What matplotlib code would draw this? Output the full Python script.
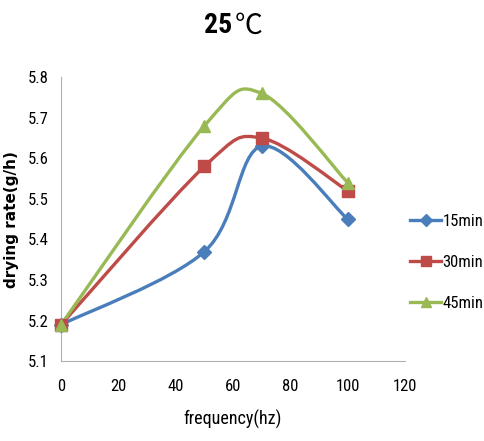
import numpy as np
import matplotlib.pyplot as plt
from matplotlib.path import Path
from matplotlib.patches import PathPatch

freq = [0, 50, 70, 100]
rate_15 = [5.19, 5.37, 5.63, 5.45]
rate_30 = [5.19, 5.58, 5.65, 5.52]
rate_45 = [5.19, 5.68, 5.76, 5.54]
labels = ["15min", "30min", "45min"]
x_ticks = [0, 20, 40, 60, 80, 100, 120]
y_ticks = [5.1, 5.2, 5.3, 5.4, 5.5, 5.6, 5.7, 5.8]

colors = ["#4a7ebb", "#be4b48", "#98b954"]
markers = ["D", "s", "^"]
msizes = [7, 9, 9]

narrow = ["Roboto Condensed", "Liberation Sans Narrow", "DejaVu Sans"]


def smooth_path(xs, ys, k=1 / 6.0):
    # Excel-style smoothed line: cubic bezier with catmull-rom control points
    pts = np.column_stack([xs, ys]).astype(float)
    n = len(pts)
    verts = [pts[0]]
    codes = [Path.MOVETO]
    for i in range(n - 1):
        p0 = pts[i - 1] if i > 0 else pts[i]
        p1 = pts[i]
        p2 = pts[i + 1]
        p3 = pts[i + 2] if i + 2 < n else pts[i + 1]
        c1 = p1 + (p2 - p0) * k
        c2 = p2 - (p3 - p1) * k
        verts += [c1, c2, p2]
        codes += [Path.CURVE4] * 3
    return Path(verts, codes)


fig = plt.figure(figsize=(4.85, 4.41), dpi=100)
ax = fig.add_axes([0.126, 0.181, 0.709, 0.644])

for ys, lab, c, m, ms in zip([rate_15, rate_30, rate_45], labels, colors, markers, msizes):
    ax.add_patch(PathPatch(smooth_path(freq, ys), fill=False, edgecolor=c, lw=2.4, zorder=2))
    ax.plot(freq, ys, ls="none", marker=m, ms=ms, color=c, zorder=3, clip_on=False)
    ax.plot([], [], color=c, lw=2.4, marker=m, ms=ms * 0.85, label=lab)

ax.set_xlim(0, 120)
ax.set_ylim(5.1, 5.8)
ax.set_xticks(x_ticks)
ax.set_yticks(y_ticks)
ax.set_xticklabels([str(v) for v in x_ticks], family=narrow, stretch="condensed", fontsize=12)
ax.set_yticklabels([f"{v:.1f}" for v in y_ticks], family=narrow, stretch="condensed", fontsize=12)
ax.tick_params(axis="x", length=0, pad=13)
ax.tick_params(axis="y", length=0, pad=9)
for s in ["top", "right"]:
    ax.spines[s].set_visible(False)
for s in ["left", "bottom"]:
    ax.spines[s].set_color("#b0b0b0")

ax.set_xlabel("frequency(hz)", family=narrow, stretch="condensed", fontsize=13, labelpad=11)
ax.set_ylabel("drying rate(g/h)", fontsize=11, fontweight="bold", labelpad=6)

fig.text(0.479, 0.942, "25", ha="right", va="center", fontsize=20, fontweight="bold",
         family=narrow, stretch="condensed")
fig.text(0.483, 0.942, "℃", ha="left", va="center", fontsize=20, fontweight="light",
         family=["Noto Sans CJK SC", "DejaVu Sans"])

leg = fig.legend(loc="center left", bbox_to_anchor=(0.845, 0.405), frameon=False,
                 prop={"family": narrow, "stretch": "condensed", "size": 12},
                 labelspacing=1.55, handlelength=1.9, handletextpad=0.05,
                 borderpad=0, borderaxespad=0)

fig.savefig("out.png", dpi=100)
